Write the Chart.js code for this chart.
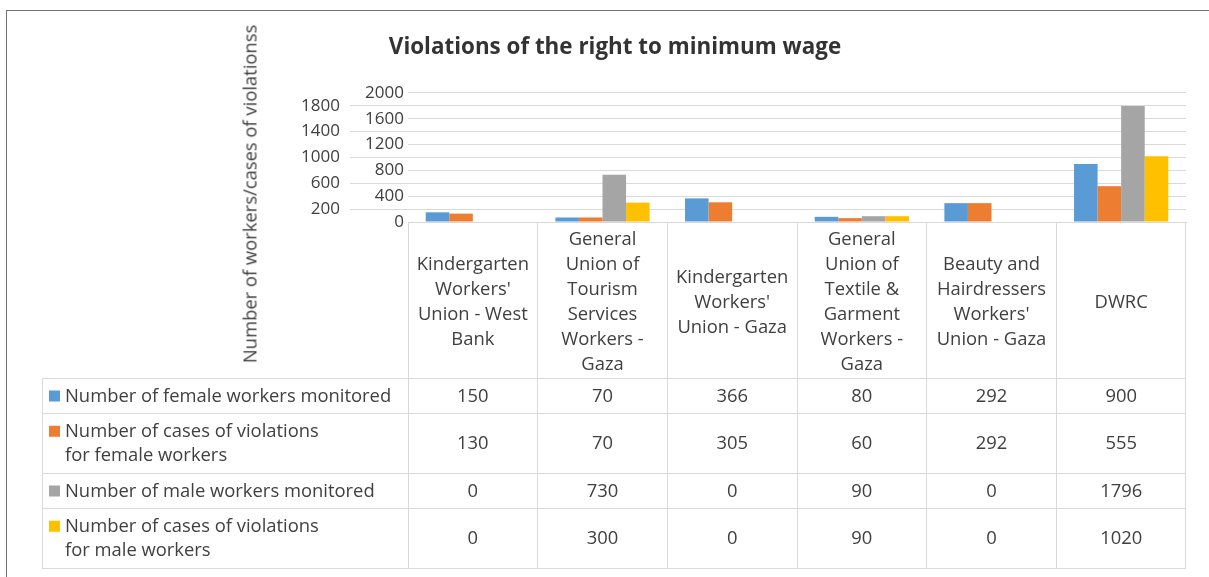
<!DOCTYPE html>
<html>
<head>
<meta charset="utf-8">
<script src="https://cdn.jsdelivr.net/npm/chart.js@4.4.0/dist/chart.umd.min.js"></script>
<style>
    body { margin: 0; background: #fff; }
    #wrap { position: relative; width: 1209px; height: 577px; overflow: hidden; }
    #frame { position: absolute; left: 6px; top: 10px; width: 1400px; height: 800px;
             border-top: 1.5px solid #707070; border-left: 1.5px solid #707070; }
    #chart { position: absolute; left: 0; top: 0; }
    #ytitle { position: absolute; left: 249px; top: 194px; white-space: nowrap;
              transform: translate(-50%, -50%) rotate(-90deg);
              font: 18.4px 'Open Sans', sans-serif; color: #404040; }
</style>
</head>
<body>
<div id="wrap">
    <div id="frame"></div>
    <canvas id="chart" width="1209" height="577"></canvas>
    <div id="ytitle">Number of workers/cases of violationss</div>
</div>
<script>
// categories (wrapped the same way as in the table header)
const categories = [
    ["Kindergarten", "Workers'", "Union - West", "Bank"],
    ["General", "Union of", "Tourism", "Services", "Workers -", "Gaza"],
    ["Kindergarten", "Workers'", "Union - Gaza"],
    ["General", "Union of", "Textile &", "Garment", "Workers -", "Gaza"],
    ["Beauty and", "Hairdressers", "Workers'", "Union - Gaza"],
    ["DWRC"]
];

const femaleMonitored = [150, 70, 366, 80, 292, 900];
const femaleViolations = [130, 70, 305, 60, 292, 555];
const maleMonitored = [0, 730, 0, 90, 0, 1796];
const maleViolations = [0, 300, 0, 90, 0, 1020];

const seriesNames = [
    ["Number of female workers monitored"],
    ["Number of cases of violations", "for female workers"],
    ["Number of male workers monitored"],
    ["Number of cases of violations", "for male workers"]
];
const seriesColors = ['#5B9BD5', '#ED7D31', '#A5A5A5', '#FFC000'];

const textColor = '#404040';
const lineColor = '#d9d9d9';
const fontFamily = "'Open Sans', sans-serif";

// table rows under the chart
const rowEdges = [378, 413, 473, 508, 568];
const tableLeft = 42;
const lineH = 24.5;

const tablePlugin = {
    id: 'dataTable',
    afterDraw(chart) {
        const ctx = chart.ctx;
        const x = chart.scales.x;
        const right = chart.chartArea.right;
        ctx.save();
        ctx.strokeStyle = lineColor;
        ctx.lineWidth = 1;
        ctx.beginPath();
        rowEdges.forEach(y => {
            ctx.moveTo(tableLeft, y + 0.5);
            ctx.lineTo(right, y + 0.5);
        });
        ctx.moveTo(tableLeft + 0.5, rowEdges[0]);
        ctx.lineTo(tableLeft + 0.5, rowEdges[rowEdges.length - 1]);
        ctx.stroke();

        ctx.font = '18.4px ' + fontFamily;
        ctx.textBaseline = 'middle';
        chart.data.datasets.forEach((ds, r) => {
            const mid = (rowEdges[r] + rowEdges[r + 1]) / 2 + 1;
            const lines = seriesNames[r];
            const y0 = mid - (lines.length - 1) * lineH / 2;
            ctx.fillStyle = seriesColors[r];
            ctx.fillRect(49, y0 - 6, 11, 11);
            ctx.fillStyle = textColor;
            ctx.textAlign = 'left';
            lines.forEach((t, k) => ctx.fillText(t, 65, y0 + k * lineH));
            ctx.textAlign = 'center';
            ds.data.forEach((v, i) => ctx.fillText(String(v), x.getPixelForValue(i), mid));
        });
        ctx.restore();
    }
};

const ctx = document.getElementById('chart').getContext('2d');
new Chart(ctx, {
    type: 'bar',
    data: {
        labels: categories,
        datasets: [
            { label: seriesNames[0].join(' '), data: femaleMonitored, backgroundColor: seriesColors[0] },
            { label: seriesNames[1].join(' '), data: femaleViolations, backgroundColor: seriesColors[1] },
            { label: seriesNames[2].join(' '), data: maleMonitored, backgroundColor: seriesColors[2] },
            { label: seriesNames[3].join(' '), data: maleViolations, backgroundColor: seriesColors[3] }
        ]
    },
    options: {
        responsive: false,
        animation: false,
        layout: { padding: { left: 44, right: 23, top: 0, bottom: 0 } },
        datasets: { bar: { categoryPercentage: 0.727, barPercentage: 1, borderWidth: 0 } },
        plugins: {
            legend: { display: false },
            tooltip: { enabled: false },
            title: {
                display: true,
                text: 'Violations of the right to minimum wage',
                color: '#333333',
                font: { family: fontFamily, size: 22.4, weight: 'bold' },
                padding: { top: 34, bottom: 32 }
            }
        },
        scales: {
            x: {
                grid: { drawOnChartArea: false, drawTicks: true, tickLength: 346, color: lineColor, offset: true },
                border: { display: true, color: lineColor },
                ticks: {
                    autoSkip: false, maxRotation: 0, minRotation: 0,
                    crossAlign: 'center', padding: -328,
                    color: textColor,
                    font: { family: fontFamily, size: 18.4, lineHeight: 1.36 }
                },
                afterFit(s) { s.height = 355; }
            },
            y: {
                min: 0, max: 2000, weight: 0,
                ticks: {
                    autoSkip: false, stepSize: 200, padding: -54, color: textColor,
                    font: { family: fontFamily, size: 17 },
                    callback: v => (v % 400 === 0 ? v : '')
                },
                grid: {
                    color: lineColor, drawTicks: true, tickLength: 58,
                    tickColor: c => (c.tick && c.tick.value % 400 !== 0 ? lineColor : 'rgba(0,0,0,0)')
                },
                border: { display: false },
                afterFit(s) { s.width = 58; }
            },
            y2: {
                position: 'left', weight: 1, min: 0, max: 2000,
                ticks: {
                    autoSkip: false, stepSize: 200, padding: 2, color: textColor,
                    font: { family: fontFamily, size: 17 },
                    callback: v => (v % 400 !== 0 ? v : '')
                },
                grid: { display: false },
                border: { display: false },
                afterFit(s) { s.width = 306; }
            }
        }
    },
    plugins: [tablePlugin]
});
</script>
</body>
</html>
